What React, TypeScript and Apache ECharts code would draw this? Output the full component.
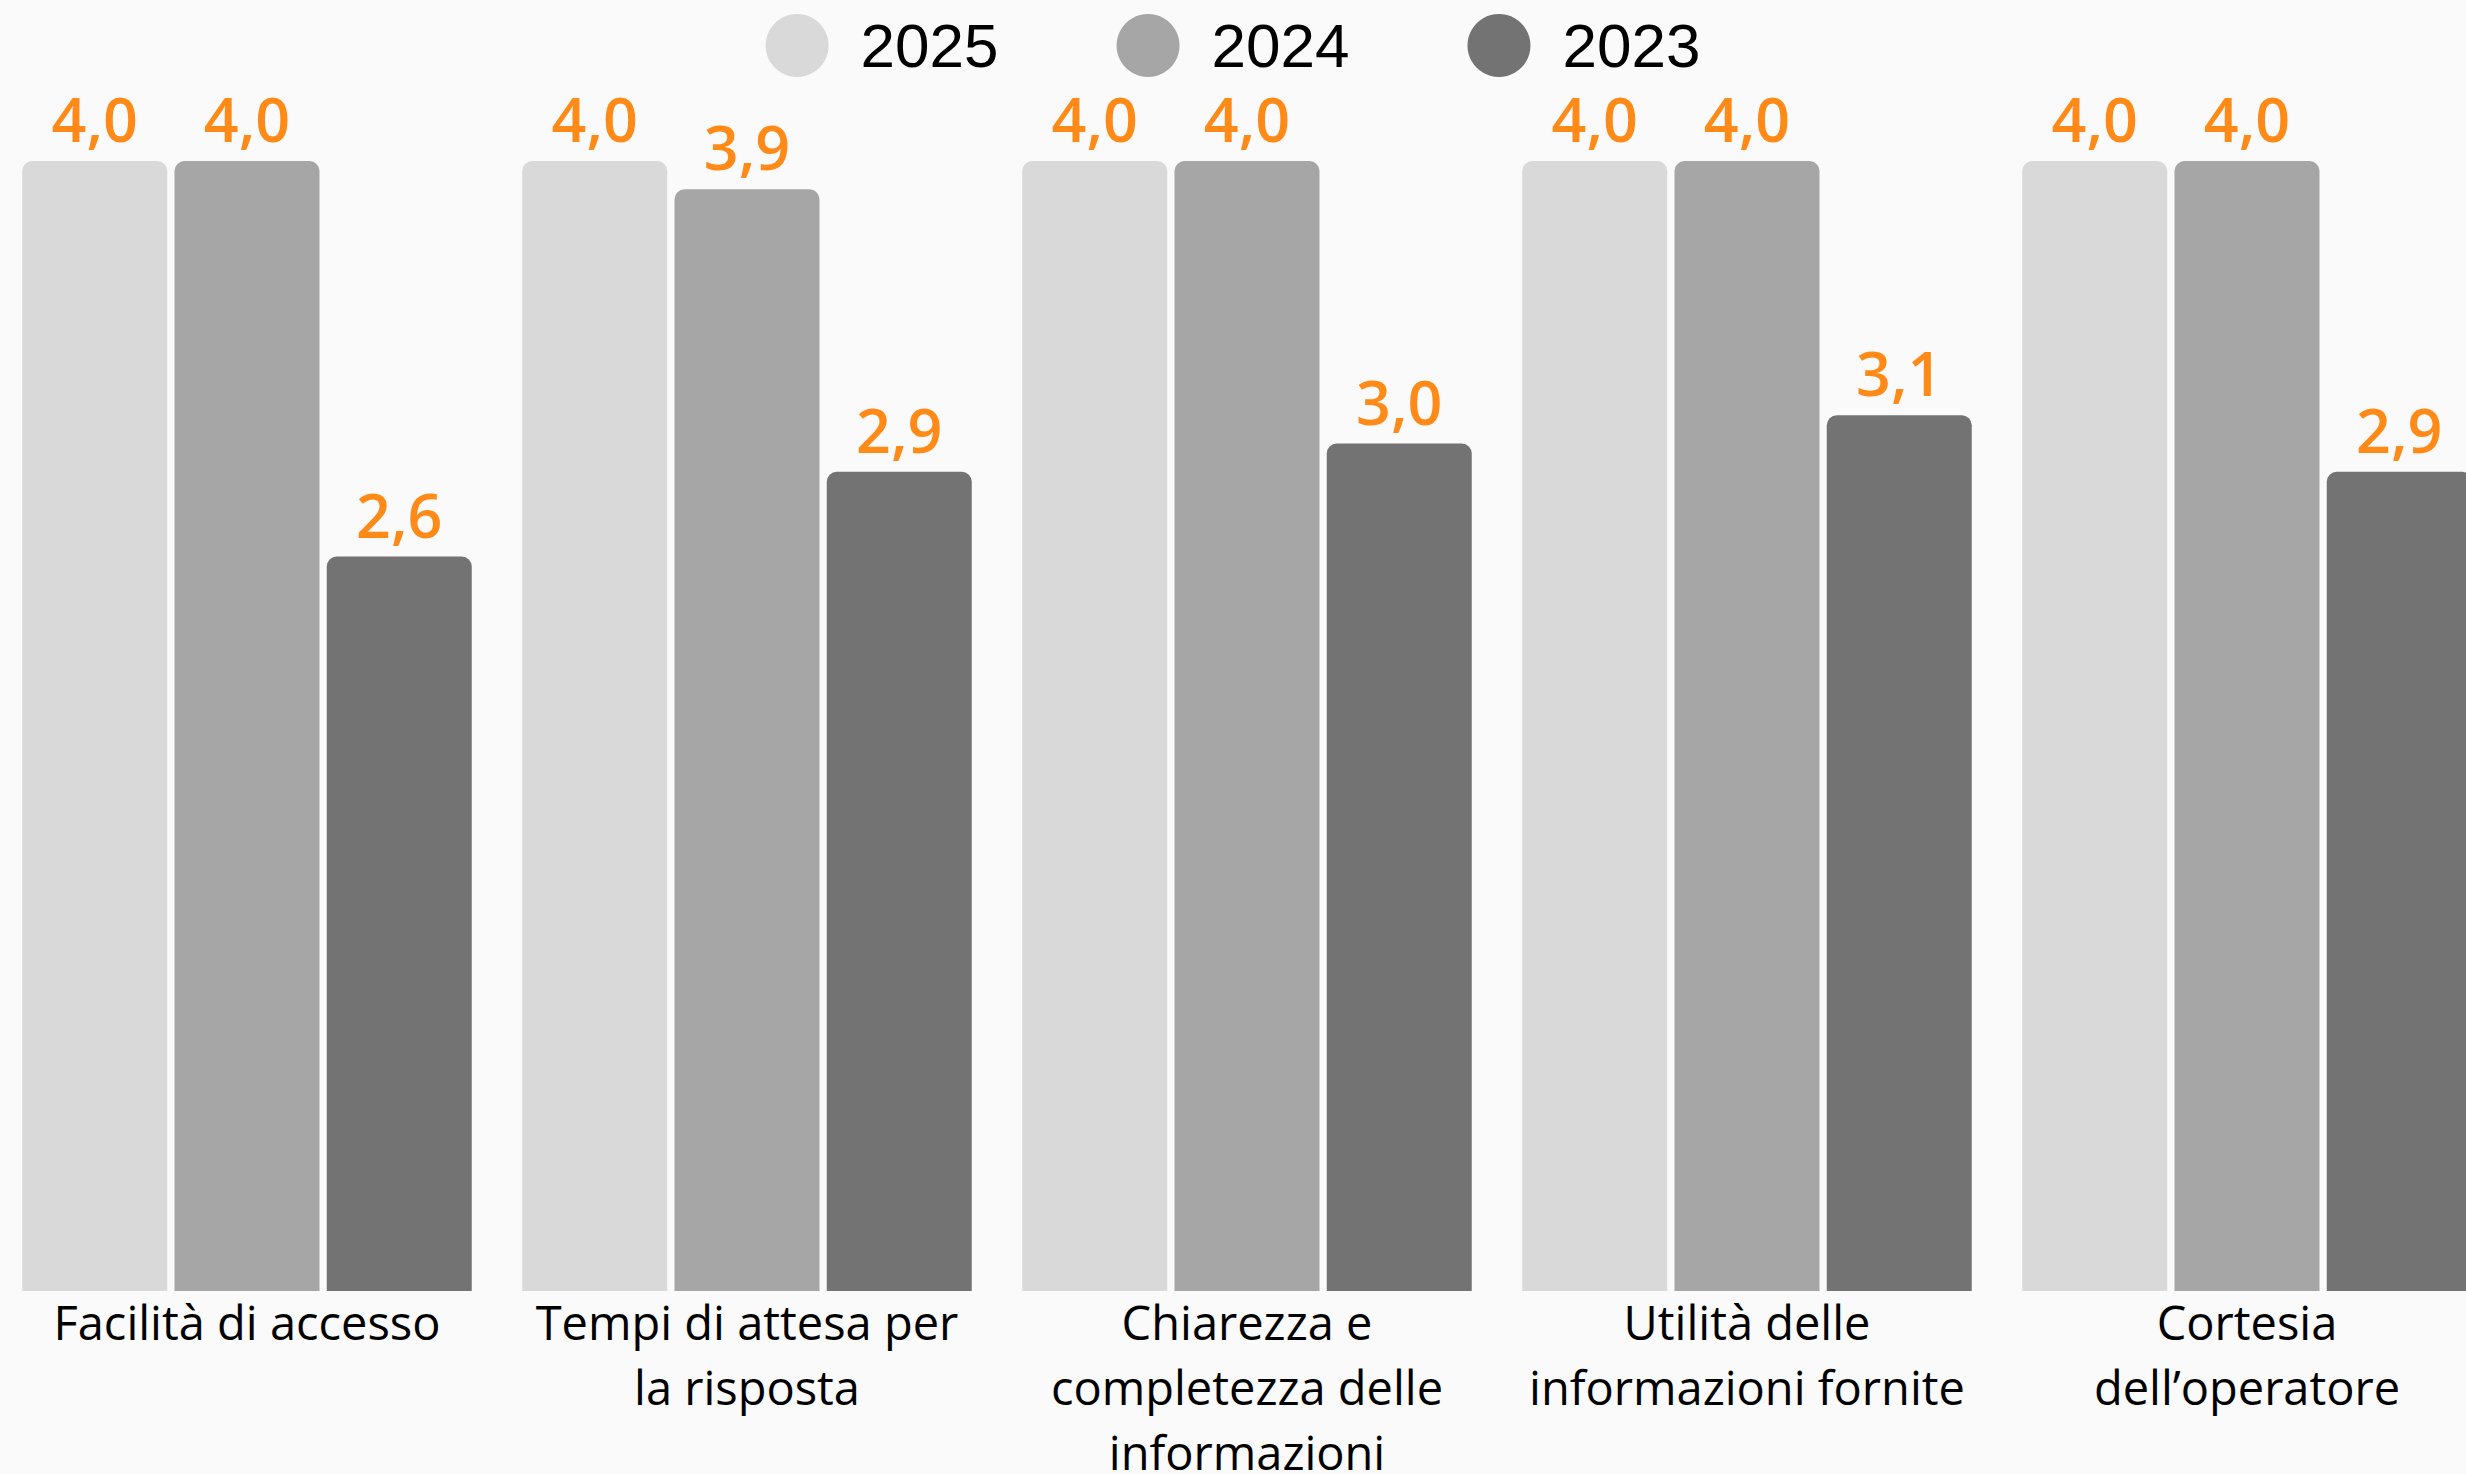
import React, { useEffect, useRef } from "react";
import * as echarts from "echarts";

const categories = [
  "Facilità di accesso",
  "Tempi di attesa per\nla risposta",
  "Chiarezza e\ncompletezza delle\ninformazioni",
  "Utilità delle\ninformazioni fornite",
  "Cortesia\ndell’operatore",
];
const years = ["2025", "2024", "2023"];
const values2025 = [4.0, 4.0, 4.0, 4.0, 4.0];
const values2024 = [4.0, 3.9, 4.0, 4.0, 4.0];
const values2023 = [2.6, 2.9, 3.0, 3.1, 2.9];
const colors = ["#D9D9D9", "#A6A6A6", "#737373"];

const W = 2466;
const H = 1474;

export default function App() {
  const ref = useRef<HTMLDivElement>(null);
  useEffect(() => {
    if (!ref.current) return;
    document.body.style.margin = "0";
    document.body.style.overflow = "hidden";
    const chart = echarts.init(ref.current, undefined, { renderer: "svg", width: W, height: H });
    const seriesData = [values2025, values2024, values2023];
    chart.setOption({
      animation: false,
      backgroundColor: "#FAFAFA",
      legend: {
        top: 9,
        left: "center",
        icon: "circle",
        itemWidth: 63,
        itemHeight: 63,
        itemGap: 118,
        textStyle: {
          fontFamily: "Liberation Sans",
          fontSize: 62,
          lineHeight: 63,
          color: "#000",
          padding: [0, 0, 0, 27],
        },
        data: years,
      },
      grid: {
        left: -3,
        right: -31,
        top: 161,
        bottom: H - 1291,
        containLabel: false,
        outerBoundsMode: "none",
      },
      xAxis: {
        type: "category",
        data: categories,
        axisLine: { show: false },
        axisTick: { show: false },
        axisLabel: {
          interval: 0,
          margin: -2,
          fontFamily: "Open Sans",
          fontSize: 47,
          lineHeight: 65,
          color: "#000",
          align: "center",
        },
      },
      yAxis: { type: "value", min: 0, max: 4, show: false, splitLine: { show: false } },
      series: years.map((y, i) => ({
        name: y,
        type: "bar",
        data: seriesData[i],
        barWidth: 145,
        barGap: "5%",
        itemStyle: { color: colors[i], borderRadius: [10, 10, 0, 0] },
        label: {
          show: true,
          position: "top",
          distance: 12,
          color: "#FF8A17",
          fontFamily: "Open Sans",
          fontWeight: 600,
          fontSize: 61,
          formatter: (p: any) => p.value.toFixed(1).replace(".", ","),
        },
      })),
    });
    return () => chart.dispose();
  }, []);
  return (
    <div
      ref={ref}
      style={{ position: "fixed", left: 0, top: 0, width: W, height: H, overflow: "hidden" }}
    />
  );
}
